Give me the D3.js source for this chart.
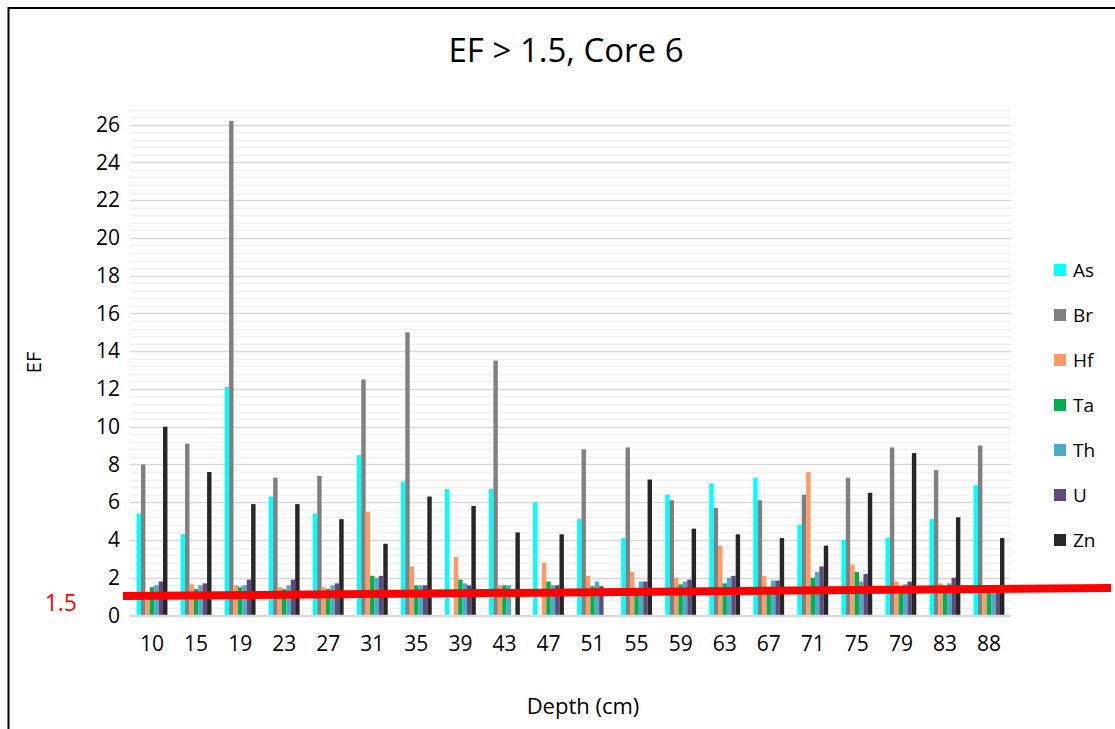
<!DOCTYPE html>
<html>
<head>
<meta charset="utf-8">
<script src="https://cdn.jsdelivr.net/npm/d3@7"></script>
<style>
  body { margin: 0; background: #fff; }
  text { font-family: "Open Sans", sans-serif; fill: #000; }
</style>
</head>
<body>
<div id="chart"></div>
<script>
// data
const depths = ['10','15','19','23','27','31','35','39','43','47','51','55','59','63','67','71','75','79','83','88'];
const elements = ['As','Br','Hf','Ta','Th','U','Zn'];
const As = [5.4,4.3,12.1,6.3,5.4,8.5,7.1,6.7,6.7,6.0,5.1,4.1,6.4,7.0,7.3,4.8,4.0,4.1,5.1,6.9];
const Br = [8.0,9.1,26.2,7.3,7.4,12.5,15.0,0,13.5,0,8.8,8.9,6.1,5.7,6.1,6.4,7.3,8.9,7.7,9.0];
const Hf = [1.2,1.65,1.6,1.5,1.5,5.5,2.6,3.1,1.6,2.8,2.1,2.3,2.0,3.7,2.1,7.6,2.7,1.8,1.7,1.4];
const Ta = [1.5,1.4,1.5,1.4,1.4,2.1,1.6,1.9,1.6,1.8,1.55,1.3,1.65,1.7,1.3,2.0,2.3,1.3,1.3,1.4];
const Th = [1.6,1.6,1.6,1.6,1.6,2.0,1.6,1.7,1.6,1.6,1.8,1.8,1.8,2.0,1.85,2.3,1.8,1.65,1.7,1.5];
const U  = [1.8,1.7,1.9,1.9,1.7,2.1,1.6,1.6,0,1.6,1.55,1.8,1.9,2.1,1.85,2.6,2.2,1.8,2.0,1.5];
const Zn = [10.0,7.6,5.9,5.9,5.1,3.8,6.3,5.8,4.4,4.3,0,7.2,4.6,4.3,4.1,3.7,6.5,8.6,5.2,4.1];
const colors = ['#00ffff','#808080','#ff9966','#00b050','#4bacc6','#604a7b','#262626'];
const yTicks = [0,2,4,6,8,10,12,14,16,18,20,22,24,26];
// hand-drawn threshold line: [category position, EF value]
const threshold = [[-0.16, 1.03], [22.27, 1.46]];

const series = [As, Br, Hf, Ta, Th, U, Zn];

const svgWidth = 1115, svgHeight = 729;
const plot = { left: 130, right: 1011, top: 109.5, bottom: 615.5 };

const svg = d3.select('#chart').append('svg')
    .attr('width', svgWidth)
    .attr('height', svgHeight);

// outer frame (only top and left edges visible)
svg.append('rect')
    .attr('x', 8.5).attr('y', 8)
    .attr('width', 1200).attr('height', 800)
    .attr('fill', 'none')
    .attr('stroke', '#000')
    .attr('stroke-width', 2);

const x0 = d3.scaleBand().domain(depths).range([plot.left, plot.right]);
const bw = x0.bandwidth() / 10;
const x1 = d3.scaleBand().domain(elements).range([0, bw * 7]);
const xOff = (x0.bandwidth() - bw * 7) / 2;
const y = d3.scaleLinear().domain([0, 26.8]).range([plot.bottom, plot.top]);
const xIdx = d3.scaleLinear().domain([0, depths.length]).range([plot.left, plot.right]);

// gridlines: minor every 0.4, major every 2
const minor = d3.range(0, 26.81, 0.4).filter(v => Math.abs(v / 2 - Math.round(v / 2)) > 1e-6);
svg.append('g').selectAll('line').data(minor).enter().append('line')
    .attr('x1', plot.left).attr('x2', plot.right)
    .attr('y1', d => Math.round(y(d)) + 0.5).attr('y2', d => Math.round(y(d)) + 0.5)
    .attr('stroke', '#f0f0f0').attr('stroke-width', 1.5);
svg.append('g').selectAll('line').data(yTicks).enter().append('line')
    .attr('x1', plot.left).attr('x2', plot.right)
    .attr('y1', d => Math.round(y(d)) + 0.5).attr('y2', d => Math.round(y(d)) + 0.5)
    .attr('stroke', '#d9d9d9').attr('stroke-width', 1.5);

// y axis labels
const leftAxis = d3.axisLeft(y).tickValues(yTicks).tickSize(0).tickPadding(10);
svg.append('g')
    .attr('transform', `translate(${plot.left},0)`)
    .call(leftAxis)
    .call(g => g.select('.domain').remove())
    .selectAll('text')
    .style('font-family', '"Open Sans", sans-serif')
    .style('font-size', '21px')
    .attr('fill', '#000');

// x axis labels
const bottomAxis = d3.axisBottom(x0).tickSize(0).tickPadding(21);
svg.append('g')
    .attr('transform', `translate(0,${plot.bottom})`)
    .call(bottomAxis)
    .call(g => g.select('.domain').remove())
    .selectAll('text')
    .style('font-family', '"Open Sans", sans-serif')
    .style('font-size', '21px')
    .attr('fill', '#000');

// bars
const groups = svg.append('g').selectAll('g')
    .data(depths)
    .enter().append('g')
    .attr('transform', d => `translate(${x0(d) + xOff},0)`);

groups.selectAll('rect')
    .data((d, i) => elements.map((e, k) => ({ e: e, v: series[k][i], c: colors[k] })))
    .enter().append('rect')
    .attr('x', d => x1(d.e))
    .attr('width', x1.bandwidth())
    .attr('y', d => y(d.v))
    .attr('height', d => y(0) - y(d.v))
    .attr('fill', d => d.c);

// axis line
svg.append('line')
    .attr('x1', plot.left).attr('x2', plot.right)
    .attr('y1', y(0)).attr('y2', y(0))
    .attr('stroke', '#d9d9d9').attr('stroke-width', 1.5);

// red threshold line
svg.append('line')
    .attr('x1', xIdx(threshold[0][0])).attr('y1', y(threshold[0][1]))
    .attr('x2', xIdx(threshold[1][0])).attr('y2', y(threshold[1][1]))
    .attr('stroke', '#ff0000').attr('stroke-width', 8);

svg.append('text')
    .attr('x', 77).attr('y', y(threshold[0][1]) + 15)
    .attr('text-anchor', 'end')
    .style('font-size', '23px')
    .style('fill', '#ff0000')
    .text('1.5');

// title
svg.append('text')
    .attr('x', 566).attr('y', 62)
    .attr('text-anchor', 'middle')
    .style('font-size', '33px')
    .text('EF > 1.5, Core 6');

// axis titles
svg.append('text')
    .attr('transform', `translate(41,${(plot.top + plot.bottom) / 2}) rotate(-90)`)
    .attr('text-anchor', 'middle')
    .style('font-size', '20px')
    .text('EF');

svg.append('text')
    .attr('x', 583).attr('y', 714)
    .attr('text-anchor', 'middle')
    .style('font-size', '22px')
    .text('Depth (cm)');

// legend
const legend = svg.append('g').selectAll('g')
    .data(elements)
    .enter().append('g')
    .attr('transform', (d, i) => `translate(1054,${270 + i * 45})`);
legend.append('rect')
    .attr('x', 0).attr('y', -6)
    .attr('width', 12).attr('height', 12)
    .attr('fill', (d, i) => colors[i]);
legend.append('text')
    .attr('x', 19).attr('y', 7)
    .style('font-size', '19px')
    .text(d => d);
</script>
</body>
</html>
